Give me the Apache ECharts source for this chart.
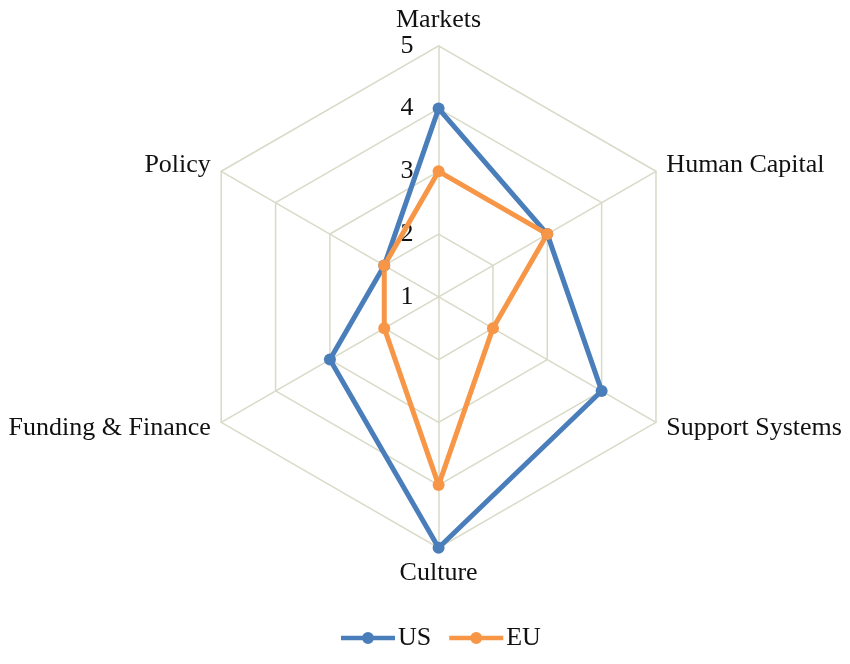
<!DOCTYPE html>
<html>
<head>
<meta charset="utf-8">
<script src="https://cdn.jsdelivr.net/npm/echarts@6/dist/echarts.min.js"></script>
<style>html,body{margin:0;padding:0;background:#fff}#c{width:850px;height:664px}</style>
</head>
<body>
<div id="c"></div>
<script>
// Categories listed clockwise from the top, as in the reference
const categories = ['Markets', 'Human Capital', 'Support Systems', 'Culture', 'Funding & Finance', 'Policy'];
const usValues = [4, 3, 4, 5, 3, 2];
const euValues = [3, 3, 2, 4, 2, 2];
const seriesNames = ['US', 'EU'];
const axisMin = 1, axisMax = 5;

// ECharts radar runs counter-clockwise; reorder to draw clockwise
const order = [0, 5, 4, 3, 2, 1];
const pick = arr => order.map(i => arr[i]);

const FONT = '"Liberation Serif", "Times New Roman", serif';
const gridColor = '#d9d9c7';
const colors = ['#4a7ebb', '#f79646'];

const indicator = pick(categories).map((name, k) => {
  const o = { name: name, min: axisMin, max: axisMax };
  if (k === 0) {
    o.axisLabel = { show: true, color: '#111', fontFamily: FONT, fontSize: 26, margin: 25 };
  }
  return o;
});

const legendIcon = 'path://M0,3.75 H54 V8.25 H0 Z M21,6 A6,6 0 1,1 33,6 A6,6 0 1,1 21,6 Z';

const chart = echarts.init(document.getElementById('c'));
chart.setOption({
  backgroundColor: '#fff',
  animation: false,
  color: colors,
  legend: {
    data: seriesNames.map(n => ({ name: n, icon: legendIcon })),
    bottom: 8,
    left: 336,
    itemWidth: 54,
    itemHeight: 12,
    itemGap: 18,
    textStyle: { fontFamily: FONT, fontSize: 26, color: '#111', padding: [0, 0, 0, -2] }
  },
  radar: {
    center: ['51.6%', '44.7%'],
    radius: 251,
    startAngle: 90,
    splitNumber: 4,
    shape: 'polygon',
    indicator: indicator,
    axisName: { color: '#111', fontFamily: FONT, fontSize: 26 },
    nameGap: 12,
    axisLine: { lineStyle: { color: gridColor, width: 1.5 } },
    splitLine: { lineStyle: { color: gridColor, width: 1.5 } },
    splitArea: { show: false },
    axisTick: { show: false },
    axisLabel: { show: false }
  },
  series: [{
    type: 'radar',
    symbol: 'circle',
    symbolSize: 12,
    data: [
      { name: seriesNames[0], value: pick(usValues),
        lineStyle: { color: colors[0], width: 5 }, itemStyle: { color: colors[0] } },
      { name: seriesNames[1], value: pick(euValues),
        lineStyle: { color: colors[1], width: 5 }, itemStyle: { color: colors[1] } }
    ]
  }]
});
</script>
</body>
</html>
